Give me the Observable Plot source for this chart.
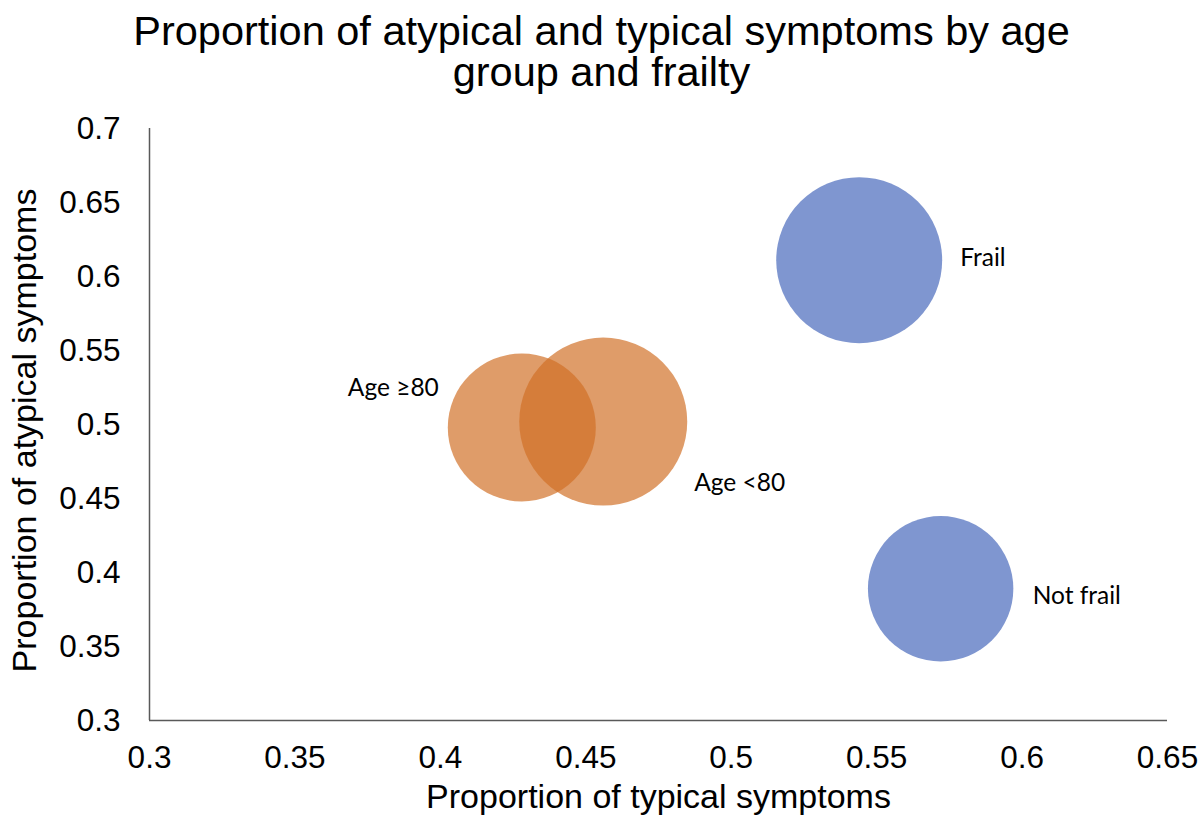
<!DOCTYPE html>
<html><head><meta charset="utf-8">
<script src="https://cdn.jsdelivr.net/npm/d3@7"></script>
<script src="https://cdn.jsdelivr.net/npm/@observablehq/plot@0.6"></script>
<style>
body{margin:0;background:#fff;}
#title{box-sizing:border-box;height:92px;padding-top:10px;width:1203px;text-align:center;font-family:"Liberation Sans",Arial,sans-serif;font-size:41.5px;color:#000;}
#title div{height:41px;line-height:41px;white-space:nowrap;}
#chart svg{display:block;}
</style></head><body>
<div id="title"><div>Proportion of atypical and typical symptoms by age</div><div>group and frailty</div></div>
<div id="chart"></div>
<script>
// Data
const groups = ["Frail", "Not frail", "Age ≥80", "Age <80"];
const series = ["Frailty", "Frailty", "Age group", "Age group"];
const typical = [0.544, 0.572, 0.428, 0.456];   // x: proportion of typical symptoms
const atypical = [0.611, 0.389, 0.498, 0.502];  // y: proportion of atypical symptoms
const bubbleSize = [689, 529, 548, 706];        // relative bubble size (area)
const xTicks = [0.3, 0.35, 0.4, 0.45, 0.5, 0.55, 0.6, 0.65];
const yTicks = [0.3, 0.35, 0.4, 0.45, 0.5, 0.55, 0.6, 0.65, 0.7];
const xLabel = "Proportion of typical symptoms";
const yLabel = "Proportion of atypical symptoms";

const data = groups.map((g, i) => ({group: g, series: series[i], x: typical[i], y: atypical[i], size: bubbleSize[i]}));

// label placement (layout only)
const labelPlacement = {
  "Frail": {dx: 101, dy: -2, anchor: "start"},
  "Not frail": {dx: 92, dy: 7, anchor: "start"},
  "Age ≥80": {dx: -83, dy: -39, anchor: "end"},
  "Age <80": {dx: 91, dy: 62, anchor: "start"}
};
const colors = {"Frailty": "#7F96D0", "Age group": "#D06F26"};
const opac = {"Frailty": 1, "Age group": 0.69};

const tickFont = "'Liberation Sans', Arial, sans-serif";
const labelFont = "Lato, 'Open Sans', sans-serif";

const labelMarks = data.map(d => {
  const p = labelPlacement[d.group];
  return Plot.text([d], {x: "x", y: "y", text: "group", dx: p.dx, dy: p.dy, textAnchor: p.anchor,
    lineAnchor: "middle", fontSize: 24.5, fontFamily: labelFont, fill: "#000"});
});

const chart = Plot.plot({
  width: 1203,
  height: 725,
  marginLeft: 149,
  marginRight: 36,
  marginTop: 36,
  marginBottom: 97,
  style: {fontFamily: tickFont, background: "#fff", overflow: "visible"},
  x: {domain: [0.3, 0.65]},
  y: {domain: [0.3, 0.7]},
  r: {type: "sqrt", domain: [0, 706], range: [0, 84]},
  marks: [
    Plot.dot(data, {x: "x", y: "y", r: "size", fill: d => colors[d.series], fillOpacity: d => opac[d.series], stroke: null}),
    ...labelMarks,
    Plot.ruleX([0.3], {stroke: "#595959", strokeWidth: 1.5}),
    Plot.ruleY([0.3], {stroke: "#595959", strokeWidth: 1.5}),
    Plot.axisX({ticks: xTicks, tickSize: 0, tickPadding: 25, fontSize: 31.5, fontFamily: tickFont, fill: "#000", label: null, tickFormat: d => String(d)}),
    Plot.axisY({ticks: yTicks, tickSize: 0, tickPadding: 29, fontSize: 31.5, fontFamily: tickFont, fill: "#000", label: null, tickFormat: d => String(d)}),
    Plot.text([xLabel], {frameAnchor: "bottom", dy: 87, lineAnchor: "bottom", fontSize: 34, fontFamily: tickFont, fill: "#000"}),
    Plot.text([yLabel], {frameAnchor: "left", dx: -114, dy: 6, rotate: -90, textAnchor: "middle", lineAnchor: "bottom", fontSize: 34, fontFamily: tickFont, fill: "#000"})
  ]
});
document.getElementById("chart").appendChild(chart);
</script>
</body></html>
